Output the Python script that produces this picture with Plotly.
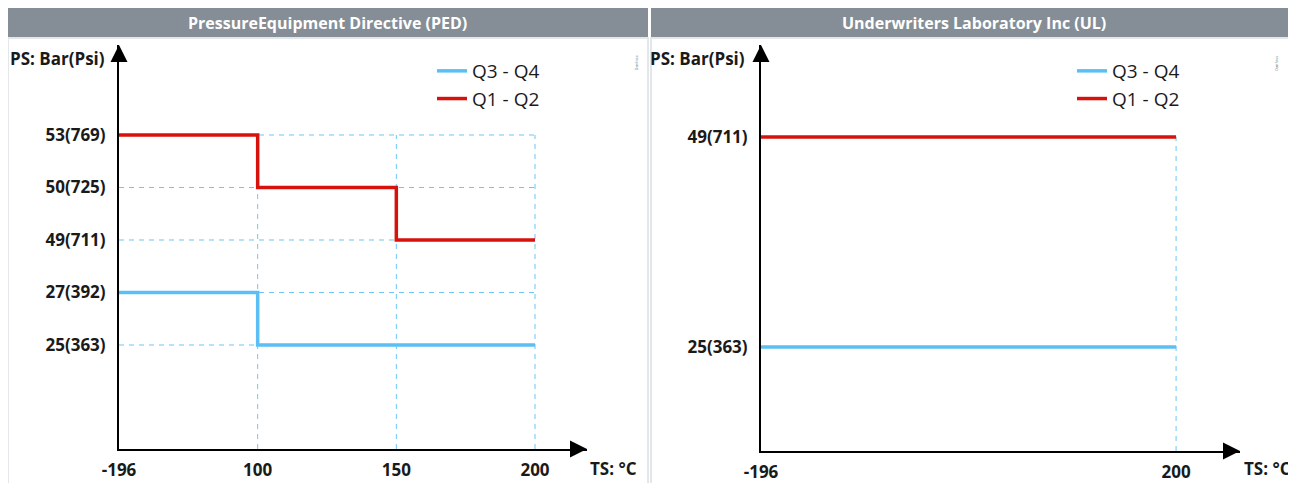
import plotly.graph_objects as go

# ---------------- data ----------------
# Pressure Equipment Directive (PED)
ped_temps = [-196, 100, 150, 200]            # TS °C tick values
ped_press_bar = [25, 27, 49, 50, 53]          # PS tick values (bar)
ped_press_psi = [363, 392, 711, 725, 769]     # PS tick values (psi)

ped_q12_t = [-196, 100, 150, 200]
ped_q12_p = [53, 50, 49, 49]
ped_q34_t = [-196, 100, 200]
ped_q34_p = [27, 25, 25]

# Underwriters Laboratory Inc (UL)
ul_temps = [-196, 200]
ul_press_bar = [25, 49]
ul_press_psi = [363, 711]

ul_q12_t = [-196, 200]
ul_q12_p = [49, 49]
ul_q34_t = [-196, 200]
ul_q34_p = [25, 25]

panel_titles = ["PressureEquipment Directive (PED)", "Underwriters Laboratory Inc (UL)"]
series_names = ["Q3 - Q4", "Q1 - Q2"]

# ---------------- styles ----------------
FONT = "Open Sans"
TXT = "#1a1a1a"
RED = "#d7120d"
BLUE = "#5bbff5"
GUIDE = "#6cc6f5"
HEAD = "#858e96"
W, H = 1296, 483
OFF = 8  # page body margin of the viewer


def px_x(p):
    return (p - OFF) / W


def px_y(p):
    return 1 - (p - OFF) / H


fig = go.Figure()


def label_map(bars, psis):
    return {b: f"{b}({p})" for b, p in zip(bars, psis)}


def add_panel(n, bars, psis, q34, q12, legend_name):
    xa = "x" if n == 1 else f"x{n}"
    ya = "y" if n == 1 else f"y{n}"
    lm = label_map(bars, psis)
    fig.add_trace(go.Scatter(
        x=[str(t) for t in q34[0]], y=[lm[p] for p in q34[1]],
        mode="lines", line=dict(color=BLUE, width=3.5, shape="hv"),
        name=series_names[0], xaxis=xa, yaxis=ya, legend=legend_name,
        hoverinfo="skip"))
    fig.add_trace(go.Scatter(
        x=[str(t) for t in q12[0]], y=[lm[p] for p in q12[1]],
        mode="lines", line=dict(color=RED, width=3.5, shape="hv"),
        name=series_names[1], xaxis=xa, yaxis=ya, legend=legend_name,
        hoverinfo="skip"))


add_panel(1, ped_press_bar, ped_press_psi,
          (ped_q34_t, ped_q34_p), (ped_q12_t, ped_q12_p), "legend")
add_panel(2, ul_press_bar, ul_press_psi,
          (ul_q34_t, ul_q34_p), (ul_q12_t, ul_q12_p), "legend2")

# ---------------- axes (schematic: categorical scales) ----------------
panels = [
    dict(n=1, temps=ped_temps, bars=ped_press_bar, psis=ped_press_psi,
         xdom=(px_x(119), px_x(587)), ydom=(px_y(449), px_y(45)),
         xr=[0, 3.375], yr=[-1.981, 5.714]),
    dict(n=2, temps=ul_temps, bars=ul_press_bar, psis=ul_press_psi,
         xdom=(px_x(761), px_x(1240)), ydom=(px_y(451), px_y(45)),
         xr=[0, 1.154], yr=[-0.495, 1.438]),
]

shapes = []
annotations = []
for P in panels:
    n = P["n"]
    sx = "" if n == 1 else str(n)
    lm = label_map(P["bars"], P["psis"])
    xcats = [str(t) for t in P["temps"]]
    ycats = [lm[b] for b in P["bars"]]
    axis_common = dict(showgrid=False, zeroline=False, showline=True,
                       linecolor="black", linewidth=2, ticks="",
                       tickfont=dict(family=FONT, size=17, color=TXT, weight="bold"),
                       fixedrange=True, automargin=False)
    fig.update_layout(**{
        f"xaxis{sx}": dict(type="category", categoryorder="array", categoryarray=xcats,
                           domain=list(P["xdom"]), range=P["xr"],
                           anchor=f"y{sx}", ticklabelstandoff=5, **axis_common),
        f"yaxis{sx}": dict(type="category", categoryorder="array", categoryarray=ycats,
                           domain=list(P["ydom"]), range=P["yr"],
                           anchor=f"x{sx}", ticklabelstandoff=8, **axis_common),
    })
    xref, yref = f"x{sx}", f"y{sx}"
    top_i = len(ycats) - 1
    last_i = len(xcats) - 1
    for i in range(len(ycats)):
        shapes.append(dict(type="line", xref=xref, yref=yref, x0=0, x1=last_i,
                           y0=i, y1=i, layer="below",
                           line=dict(color=GUIDE, width=1, dash="5px,5px")))
    for j in range(1, len(xcats)):
        shapes.append(dict(type="line", xref=xref, yref=yref, x0=j, x1=j,
                           y0=P["yr"][0], y1=top_i, layer="below",
                           line=dict(color=GUIDE, width=1, dash="5px,5px")))
    annotations.append(dict(xref=f"x{sx} domain", yref=f"y{sx} domain", x=1, y=0,
                            ax=-14, ay=0, text="", showarrow=True, arrowhead=2,
                            arrowsize=1.7, arrowwidth=2, arrowcolor="black", standoff=0))
    annotations.append(dict(xref=f"x{sx} domain", yref=f"y{sx} domain", x=0, y=1,
                            ax=0, ay=14, text="", showarrow=True, arrowhead=2,
                            arrowsize=1.7, arrowwidth=2, arrowcolor="black", standoff=0))

# axis titles
for xr_px, xt_px in [(107, 588), (747, 1242)]:
    annotations.append(dict(xref="paper", yref="paper", x=px_x(xr_px), y=px_y(58),
                            xanchor="right", yanchor="middle", showarrow=False,
                            text="PS: Bar(Psi)",
                            font=dict(family=FONT, size=17, color=TXT, weight="bold")))
    annotations.append(dict(xref="paper", yref="paper", x=px_x(xt_px), y=px_y(468),
                            xanchor="left", yanchor="middle", showarrow=False,
                            text="TS: °C",
                            font=dict(family=FONT, size=17, color=TXT, weight="bold")))

# header bars
for (x0, x1), title in zip([(7, 648), (651, 1304)], panel_titles):
    shapes.append(dict(type="rect", xref="paper", yref="paper",
                       x0=px_x(x0), x1=px_x(x1), y0=px_y(38), y1=px_y(8),
                       fillcolor=HEAD, line=dict(width=0), layer="below"))
    annotations.append(dict(xref="paper", yref="paper",
                            x=px_x((x0 + min(x1, 1296)) / 2), y=px_y(23),
                            xanchor="center", yanchor="middle", showarrow=False,
                            text=title,
                            font=dict(family=FONT, size=16, color="white", weight="bold")))

# panel frames
for x0, x1 in [(8, 648), (651, 1293)]:
    shapes.append(dict(type="rect", xref="paper", yref="paper",
                       x0=px_x(x0), x1=px_x(x1), y0=px_y(500), y1=px_y(38),
                       fillcolor="rgba(0,0,0,0)", line=dict(color="#e4e7ea", width=2),
                       layer="below"))

# tiny rotated source notes
for xp in (636, 1281):
    annotations.append(dict(xref="paper", yref="paper", x=px_x(xp), y=px_y(54),
                            showarrow=False, text="Danfoss", textangle=-90,
                            font=dict(family=FONT, size=4, color="#777")))

legend_common = dict(font=dict(family=FONT, size=19, color=TXT),
                     bgcolor="rgba(0,0,0,0)", xanchor="left", yanchor="top",
                     traceorder="normal", itemwidth=30, tracegroupgap=0)
fig.update_layout(
    width=W, height=H,
    margin=dict(l=0, r=0, t=0, b=0, autoexpand=False),
    paper_bgcolor="white", plot_bgcolor="white",
    shapes=shapes, annotations=annotations,
    showlegend=True,
    legend=dict(x=px_x(432), y=px_y(52), **legend_common),
    legend2=dict(x=px_x(1072), y=px_y(52), **legend_common),
)

fig.write_html("out.html")
